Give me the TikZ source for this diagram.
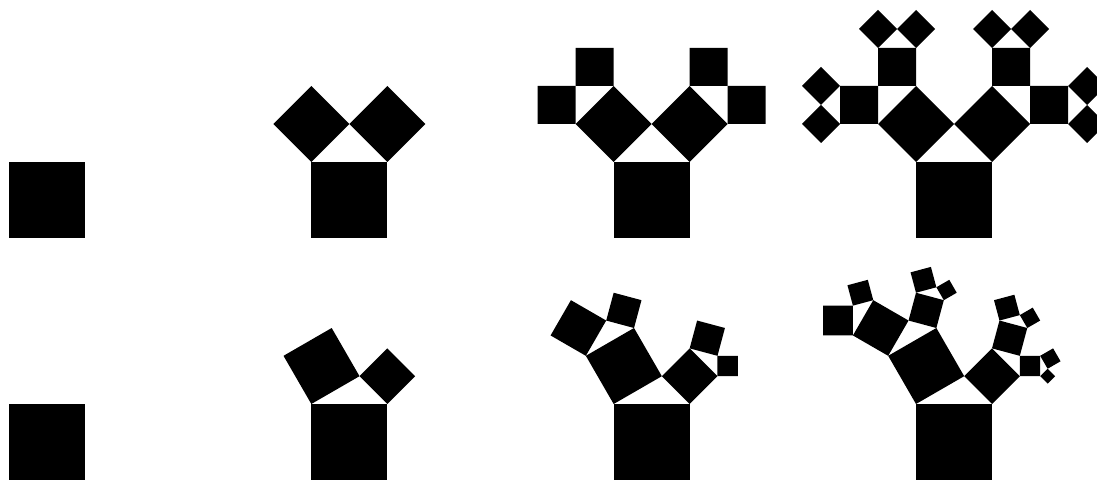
\documentclass[tikz,border=0pt]{standalone}
\usetikzlibrary{calc}
\tikzset{treefill/.style={fill=black}}
\def\ptA{45}\def\ptk{0.70711}
\newcommand\pyt[4]{% #1 remaining levels, #2 tag, #3 left point, #4 right point
  \coordinate (A#2) at (#3);
  \coordinate (B#2) at (#4);
  \coordinate (D#2) at ($(A#2)!1!90:(B#2)$);
  \coordinate (C#2) at ($(B#2)!1!-90:(A#2)$);
  \fill[treefill] (A#2) -- (B#2) -- (C#2) -- (D#2) -- cycle;
  \ifnum#1>0\relax
    \coordinate (P#2) at ($(D#2)!\ptk!\ptA:(C#2)$);
    \pyt{\numexpr#1-1\relax}{#2x}{D#2}{P#2}%
    \pyt{\numexpr#1-1\relax}{#2x}{P#2}{C#2}%
  \fi
}
\begin{document}
\begin{tikzpicture}[x=1pt,y=1pt]
\clip (0,0) rectangle (1097,480);
\def\ptA{45}\def\ptk{0.70711}
\foreach \i in {0,1,2,3}{
  \coordinate (s\i) at ({9+302.33*\i},242);
  \coordinate (e\i) at ({85+302.33*\i},242);
  \pyt{\i}{t}{s\i}{e\i}
}
\def\ptA{30}\def\ptk{0.73205}
\foreach \i in {0,1,2,3}{
  \coordinate (u\i) at ({9+302.33*\i},0);
  \coordinate (v\i) at ({85+302.33*\i},0);
  \pyt{\i}{b}{u\i}{v\i}
}
\end{tikzpicture}
\end{document}
